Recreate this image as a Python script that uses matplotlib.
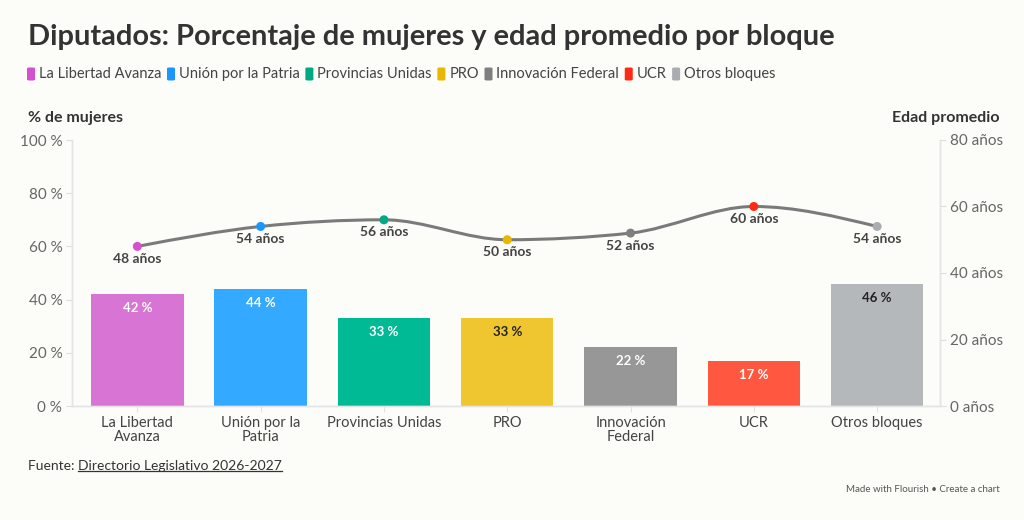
import matplotlib
matplotlib.use('Agg')
import matplotlib.pyplot as plt
import numpy as np
from matplotlib.patches import FancyBboxPatch, PathPatch
from matplotlib.path import Path
from matplotlib.lines import Line2D

plt.rcParams['font.family'] = ['Lato', 'DejaVu Sans']

bloques = ['La Libertad Avanza', 'Unión por la Patria', 'Provincias Unidas', 'PRO',
           'Innovación Federal', 'UCR', 'Otros bloques']
etiquetas = ['La Libertad\nAvanza', 'Unión por la\nPatria', 'Provincias Unidas', 'PRO',
             'Innovación\nFederal', 'UCR', 'Otros bloques']
pct_mujeres = [42, 44, 33, 33, 22, 17, 46]
edad_promedio = [48, 54, 56, 50, 52, 60, 54]
color_barra = ['#d874d4', '#33a9ff', '#00b995', '#efc630', '#979797', '#ff5740', '#b5b8bb']
color_punto = ['#d64fd0', '#1a97ff', '#00a884', '#e9b600', '#7f7f7f', '#ff2a14', '#a9adb1']
texto_barra = ['white', 'white', 'white', '#222222', 'white', 'white', '#222222']

BG = '#fcfcf8'
DARK = '#333333'
GRAY = '#666666'


def monotone_path(x, y):
    # curva monótona tipo d3.curveMonotoneX
    x = np.asarray(x, float)
    y = np.asarray(y, float)
    n = len(x)
    h = np.diff(x)
    s = np.diff(y) / h
    t = np.zeros(n)
    for i in range(1, n - 1):
        p = (s[i - 1] * h[i] + s[i] * h[i - 1]) / (h[i - 1] + h[i])
        t[i] = (np.sign(s[i - 1]) + np.sign(s[i])) * min(abs(s[i - 1]), abs(s[i]), 0.5 * abs(p))
    t[0] = (3 * s[0] - t[1]) / 2
    t[-1] = (3 * s[-1] - t[-2]) / 2
    verts = [(x[0], y[0])]
    codes = [Path.MOVETO]
    for i in range(n - 1):
        dx = h[i] / 3
        verts += [(x[i] + dx, y[i] + dx * t[i]), (x[i + 1] - dx, y[i + 1] - dx * t[i + 1]),
                  (x[i + 1], y[i + 1])]
        codes += [Path.CURVE4] * 3
    return Path(verts, codes)


fig = plt.figure(figsize=(10.24, 5.2), dpi=100, facecolor=BG)
ax = fig.add_axes([72 / 1024, 1 - 406 / 520, 868 / 1024, 266 / 520])
ax.set_facecolor(BG)
ax2 = ax.twinx()

x = np.arange(len(bloques))
ax.bar(x, pct_mujeres, width=0.75, color=color_barra, zorder=2)
for xi, v, c in zip(x, pct_mujeres, texto_barra):
    ax.annotate(f'{v} %', (xi, v), xytext=(0, -10), textcoords='offset points',
                ha='center', va='center', color=c, fontsize=9.5, fontweight='bold')

ax.set_xlim(-0.53, 6.51)
ax.set_ylim(0, 100)
ax.set_yticks(range(0, 101, 20))
ax.set_yticklabels([f'{v} %' for v in range(0, 101, 20)])
ax.set_xticks(x)
ax.set_xticklabels(etiquetas, fontsize=10.5, color='#444444', linespacing=1.0)
ax.tick_params(axis='x', length=4, color='#e2e2e2', pad=3)
ax.tick_params(axis='y', length=4, color='#dddddd', labelcolor=GRAY, labelsize=11, pad=3)

ax2.set_ylim(0, 80)
ax2.set_yticks(range(0, 81, 20))
ax2.set_yticklabels([f'{v} años' for v in range(0, 81, 20)])
ax2.tick_params(axis='y', length=4, color='#dddddd', labelcolor=GRAY, labelsize=11, pad=3)

for a in (ax, ax2):
    a.spines['top'].set_visible(False)
    for sp in ('left', 'right', 'bottom'):
        a.spines[sp].set_color('#e4e4e4')
        a.spines[sp].set_linewidth(1)

ax2.add_patch(PathPatch(monotone_path(x, edad_promedio), fill=False, edgecolor='#7a7a7a',
                        linewidth=2.2, zorder=3))
ax2.scatter(x, edad_promedio, s=42, color=color_punto, zorder=4, linewidths=0)
for xi, v in zip(x, edad_promedio):
    ax2.annotate(f'{v} años', (xi, v), xytext=(0, -9), textcoords='offset points',
                 ha='center', va='center', color='#444444', fontsize=10, fontweight='bold')

# títulos
fig.text(28 / 1024, 1 - 37 / 520, 'Diputados: Porcentaje de mujeres y edad promedio por bloque',
         fontsize=20.9, fontweight='bold', color=DARK, va='center', ha='left')
fig.text(28 / 1024, 1 - 118 / 520, '% de mujeres', fontsize=11.5, fontweight='bold',
         color=DARK, va='center', ha='left')
fig.text(1000 / 1024, 1 - 118 / 520, 'Edad promedio', fontsize=11.5, fontweight='bold',
         color=DARK, va='center', ha='right')

# leyenda
fig.canvas.draw()
renderer = fig.canvas.get_renderer()
xpos = 27
ly = 1 - 74 / 520
for nombre, c in zip(bloques, color_punto):
    fig.patches.append(FancyBboxPatch((xpos / 1024, ly - 6.5 / 520), 8 / 1024, 13 / 520,
                                      boxstyle='round,pad=0,rounding_size=0.002',
                                      transform=fig.transFigure, facecolor=c, edgecolor='none'))
    t = fig.text((xpos + 12) / 1024, ly, nombre, fontsize=10.5, color='#444444',
                 va='center', ha='left')
    w = t.get_window_extent(renderer).width
    xpos += 12 + w + 5.5

# fuente
fy = 1 - 466 / 520
t1 = fig.text(28 / 1024, fy, 'Fuente: ', fontsize=10, color=DARK, va='center', ha='left')
w1 = t1.get_window_extent(renderer).width
t2 = fig.text((28 + w1) / 1024, fy, 'Directorio Legislativo 2026-2027', fontsize=10,
              color=DARK, va='center', ha='left')
bb = t2.get_window_extent(renderer)
fig.lines.append(Line2D([bb.x0 / 1024, bb.x1 / 1024], [(bb.y0 + 1) / 520] * 2,
                        transform=fig.transFigure, color=DARK, linewidth=0.9))

fig.text(1000 / 1024, 1 - 489 / 520, 'Made with Flourish • Create a chart', fontsize=7,
         color='#555555', va='center', ha='right')

fig.savefig('out.png', dpi=100, facecolor=BG)
